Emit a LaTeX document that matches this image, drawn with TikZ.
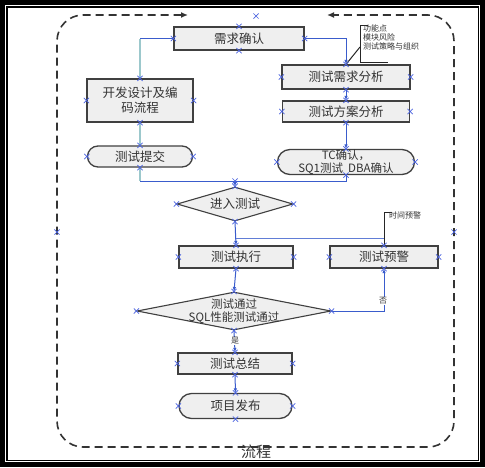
\documentclass[tikz,border=0pt]{standalone}
\usepackage{fontspec}
\setmainfont{Noto Sans CJK SC}
\usetikzlibrary{shapes.misc,shapes.geometric,arrows.meta}
\definecolor{boxfill}{HTML}{EFEFEF}
\definecolor{boxline}{HTML}{404040}
\definecolor{txtcol}{HTML}{333333}
\definecolor{linkblue}{HTML}{3A5CCC}
\definecolor{linkteal}{HTML}{9CC8CC}
\definecolor{cpblue}{HTML}{4A63E0}
\tikzset{
  box/.style={draw=boxline, line width=1.3pt, fill=boxfill, inner sep=0pt, text=txtcol, align=center, font=\fontsize{12.5pt}{15pt}\selectfont},
  stad/.style={box, rounded rectangle},
  dia/.style={diamond, draw=boxline, line width=1.1pt, fill=boxfill, inner sep=0pt},
  txt/.style={inner sep=0pt, text=txtcol, align=center, font=\fontsize{12.5pt}{14pt}\selectfont},
  link/.style={draw=linkblue, line width=1pt},
  tlink/.style={draw=linkteal, line width=2.4pt},
  arr/.style={-{Latex[length=4.5pt,width=3.5pt]}, linkblue},
  cp/.style={cross out, draw=cpblue, line width=0.7pt, minimum size=4.5pt, inner sep=0pt},
  note/.style={draw=black!85, line width=1pt},
  small/.style={inner sep=0pt, text=txtcol, align=left, font=\fontsize{8pt}{9pt}\selectfont},
  frame/.style={draw=black!80, line width=1.6pt, dash pattern=on 8pt off 5pt, rounded corners=26pt}
}
\begin{document}
\begin{tikzpicture}[x=1pt,y=-1pt]
\useasboundingbox (0,0) rectangle (485,467);
% outer black frame
\fill[black] (0,0) rectangle (485,467);
\fill[white] (5,5) rectangle (480,462);
\fill[black] (6,6) rectangle (479,461);
\fill[white] (7.5,7.5) rectangle (477.5,459.5);

% dashed swimlane frame
\draw[frame, {Latex[length=7pt,width=6pt]}-{Latex[length=7pt,width=6pt]}] (188,15) -- (57,15) -- (57,447) -- (454,447) -- (454,15) -- (327,15);
\node[txt, font=\fontsize{15pt}{16pt}\selectfont] (lane) at (256,452) {流程};

% nodes
\node[box, minimum width=130pt, minimum height=23pt] (req) at (239,38.5) {需求确认};
\node[box, minimum width=106pt, minimum height=43pt] (dev) at (140,100.5) {开发设计及编\\码流程};
\node[stad, minimum width=105pt, minimum height=21pt] (sub) at (140,156.5) {测试提交};
\node[box, minimum width=128pt, minimum height=24pt] (tra) at (346,77) {测试需求分析};
\node[box, minimum width=127pt, minimum height=21pt] (plan) at (346,111.5) {测试方案分析};
\node[stad, minimum width=137pt, minimum height=25pt, font=\fontsize{11.5pt}{12.5pt}\selectfont] (tc) at (346,162) {TC确认，\\SQ1测试\ \ DBA确认};
\node[dia, minimum width=116pt, minimum height=34pt] (enter) at (235,204) {};
\node[txt] (entert) at (enter) {进入测试};
\node[box, minimum width=114pt, minimum height=22pt] (exec) at (236,257) {测试执行};
\node[box, minimum width=108pt, minimum height=22pt] (warn) at (384,257) {测试预警};
\node[dia, minimum width=194pt, minimum height=38pt] (pass) at (234,311) {};
\node[txt, font=\fontsize{11.5pt}{12.5pt}\selectfont] (passt) at (pass) {测试通过\\SQL性能测试通过};
\node[box, minimum width=114pt, minimum height=21pt] (sum) at (235,363.5) {测试总结};
\node[stad, minimum width=113pt, minimum height=25pt] (pub) at (235.5,406) {项目发布};

% connectors
\coordinate (c1) at (req.west -| dev.north);
\draw[link] (req.west) -- (c1);
\draw[tlink] (c1) -- (dev.north);
\draw[arr, link] (req.east) -| (tra.north);
\draw[arr, link] (tra.south) -- (plan.north);
\draw[arr, link] (plan.south) -- (tc.north);
\draw[tlink] (dev.south) -- (sub.north);
\coordinate (m1) at (sub.south |- 0,181);
\coordinate (m2) at (tc.south |- 0,181);
\coordinate (m3) at (enter.north |- 0,181);
\draw[tlink] (sub.south) -- (m1);
\draw[link] (m1) -- (m2) -- (tc.south);
\draw[arr, link] (m3) -- (enter.north);
\draw[arr, link] (enter.south) -- (exec.north);
\coordinate (w1) at (warn.north |- 0,238);
\coordinate (w2) at (exec.north |- 0,238);
\draw[link, line width=0.7pt, draw=linkblue!80] (warn.north) -- (w1) -- (w2);
\draw[arr, link] (exec.south) -- (pass.north);
\draw[arr, link] (pass.east) -| (warn.south);
\draw[arr, link] (pass.south) -- (sum.north);
\draw[arr, link] (sum.south) -- (pub.north);
\node[small, fill=white, inner sep=0.5pt] (no) at (383,301) {否};
\node[small, fill=white, inner sep=0.5pt] (yes) at (235,341) {是};

% annotations
\coordinate (k1) at (360,47);
\draw[note] (tra.north) -- (k1);
\draw[note] (368,25) -- (360,25) -- (360,62) -- (388,62);
\node[small, anchor=north west] (ann) at (363,24.5) {功能点\\模块风险\\测试策略与组织};
\coordinate (k2) at (384,212);
\draw[note] (warn.north) -- (k2) -- ++(8,0);
\node[small, anchor=west] (annw) at (389,215.5) {时间预警};

% connection point markers
\foreach \n in {req,dev,sub,tra,plan,tc,enter,exec,warn,pass,sum,pub}
  \foreach \a in {north,south,east,west}
    \node[cp] at (\n.\a) {};
\node[cp] (f1) at (256,16) {};
\node[cp] (f2) at (57,232) {};
\node[cp] (f3) at (454,232) {};
\node[cp] (f4) at (m3) {};
\end{tikzpicture}
\end{document}
